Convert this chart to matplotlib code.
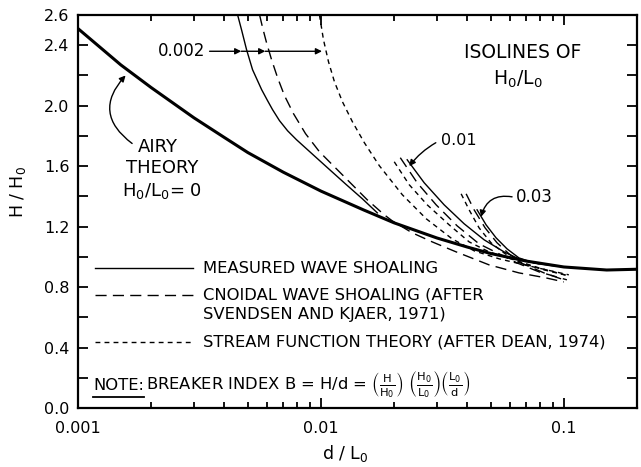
import matplotlib

matplotlib.use("Agg")
import matplotlib.pyplot as plt
from matplotlib.ticker import FixedLocator, FixedFormatter, LogLocator, NullFormatter

plt.rcParams["font.family"] = ["DejaVu Sans"]
plt.rcParams["mathtext.default"] = "regular"

# Airy theory, H0/L0 = 0
AIRY_D = [0.001, 0.0015, 0.002, 0.003, 0.004, 0.005, 0.007, 0.01, 0.015, 0.02,
          0.03, 0.04, 0.05, 0.07, 0.1, 0.15, 0.2]
AIRY_H = [2.51, 2.27, 2.12, 1.92, 1.79, 1.69, 1.56, 1.435, 1.31, 1.225,
          1.125, 1.065, 1.022, 0.972, 0.933, 0.913, 0.918]

# isoline H0/L0 = 0.002
MEAS_002_D = [0.00454, 0.00472, 0.00494, 0.00523, 0.0057, 0.00603, 0.00632, 0.00675, 0.00729,
              0.00793, 0.00872, 0.01053, 0.01273, 0.01481, 0.01706]
MEAS_002_H = [2.60, 2.497, 2.371, 2.238, 2.106, 2.033, 1.974, 1.901, 1.834,
              1.775, 1.715, 1.596, 1.477, 1.384, 1.291]
CNOI_002_D = [0.00559, 0.00575, 0.00597, 0.00626, 0.00663, 0.00708, 0.00771, 0.00864, 0.00986,
              0.01147, 0.01334, 0.01552, 0.01823, 0.01966, 0.02375, 0.02871, 0.036, 0.0492,
              0.0653, 0.0843, 0.1]
CNOI_002_H = [2.60, 2.517, 2.417, 2.305, 2.185, 2.066, 1.947, 1.815, 1.695,
              1.589, 1.483, 1.377, 1.278, 1.238, 1.159, 1.099, 1.033, 0.947,
              0.894, 0.861, 0.834]
STRM_002_D = [0.00986, 0.01024, 0.01074, 0.01136, 0.01226, 0.01347, 0.01509, 0.01739, 0.02162,
              0.02712, 0.03467, 0.04271, 0.0541, 0.0718, 0.1048]
STRM_002_H = [2.60, 2.437, 2.291, 2.159, 2.026, 1.894, 1.755, 1.603, 1.411,
              1.252, 1.119, 1.040, 0.987, 0.940, 0.881]

# isoline H0/L0 = 0.01
MEAS_01_D = [0.02265, 0.02661, 0.03215, 0.03884, 0.04693, 0.0567, 0.0666, 0.0789]
MEAS_01_H = [1.642, 1.490, 1.344, 1.219, 1.113, 1.033, 0.980, 0.954]
CNOI_01_D = [0.02121, 0.0249, 0.0298, 0.03636, 0.04475, 0.0541, 0.06412, 0.0789, 0.1029]
CNOI_01_H = [1.656, 1.490, 1.344, 1.205, 1.086, 1.020, 0.960, 0.901, 0.848]
STRM_01_D = [0.02003, 0.02309, 0.02738, 0.0337, 0.04073, 0.0492, 0.06232, 0.07892, 0.1048]
STRM_01_H = [1.629, 1.477, 1.344, 1.212, 1.099, 1.033, 0.980, 0.927, 0.874]

# isoline H0/L0 = 0.03
MEAS_03_D = [0.04392, 0.04783, 0.05257, 0.05833, 0.0653, 0.07527, 0.09097]
MEAS_03_H = [1.311, 1.212, 1.126, 1.053, 0.993, 0.960, 0.940]
CNOI_03_D = [0.03959, 0.04271, 0.04738, 0.05306, 0.05943, 0.0666, 0.08277, 0.1029]
CNOI_03_H = [1.417, 1.311, 1.192, 1.093, 1.020, 0.960, 0.894, 0.841]
STRM_03_D = [0.03776, 0.04073, 0.04475, 0.05013, 0.0567, 0.06412, 0.08277, 0.1048]
STRM_03_H = [1.417, 1.311, 1.192, 1.093, 1.026, 0.967, 0.914, 0.874]

Y_TICKS = [0.0, 0.2, 0.4, 0.6, 0.8, 1.0, 1.2, 1.4, 1.6, 1.8, 2.0, 2.2, 2.4, 2.6]
Y_LABELS = ["0.0", "", "0.4", "", "0.8", "", "1.2", "", "1.6", "", "2.0", "", "2.4", "2.6"]
X_TICKS = [0.001, 0.01, 0.1]
X_LABELS = ["0.001", "0.01", "0.1"]

LONG_DASH = (8, 4.5)
SHORT_DASH = (3.5, 3)

fig = plt.figure(figsize=(6.41, 4.67), dpi=100)
ax = fig.add_axes([0.1217, 0.1263, 0.8721, 0.8416])

ax.plot(AIRY_D, AIRY_H, color="black", lw=2.2, solid_capstyle="butt")
for d, h in [(MEAS_002_D, MEAS_002_H), (MEAS_01_D, MEAS_01_H), (MEAS_03_D, MEAS_03_H)]:
    ax.plot(d, h, color="black", lw=1.0)
for d, h in [(CNOI_002_D, CNOI_002_H), (CNOI_01_D, CNOI_01_H), (CNOI_03_D, CNOI_03_H)]:
    ax.plot(d, h, color="black", lw=1.0, dashes=LONG_DASH)
for d, h in [(STRM_002_D, STRM_002_H), (STRM_01_D, STRM_01_H), (STRM_03_D, STRM_03_H)]:
    ax.plot(d, h, color="black", lw=1.0, dashes=SHORT_DASH)

ax.set_xscale("log")
ax.set_xlim(0.001, 0.2)
ax.set_ylim(0, 2.6)
ax.xaxis.set_major_locator(FixedLocator(X_TICKS))
ax.xaxis.set_major_formatter(FixedFormatter(X_LABELS))
ax.xaxis.set_minor_locator(LogLocator(base=10, subs=range(2, 10)))
ax.xaxis.set_minor_formatter(NullFormatter())
ax.yaxis.set_major_locator(FixedLocator(Y_TICKS))
ax.yaxis.set_major_formatter(FixedFormatter(Y_LABELS))
ax.tick_params(which="both", direction="in", top=True, right=True, width=1.3, labelsize=11.5)
ax.tick_params(which="major", length=7)
ax.tick_params(which="minor", length=4.5)
ax.tick_params(axis="x", pad=9)
ax.tick_params(axis="y", pad=6)
for sp in ax.spines.values():
    sp.set_linewidth(1.6)

ax.set_xlabel(r"d / L$_0$", fontsize=12.5)
ax.set_ylabel(r"H / H$_0$", fontsize=12.5)
ax.xaxis.set_label_coords(0.479, -0.088)
ax.yaxis.set_label_coords(-0.09, 0.55)


def axx(px):
    return (px - 78) / 559.0


def axy(py):
    return (408 - py) / 393.0


tr = ax.transAxes

# annotations
arrow_kw = dict(arrowstyle="-|>", color="black", lw=1.0, mutation_scale=9, shrinkA=0, shrinkB=0)
ax.text(0.00335, 2.36, "0.002", ha="right", va="center", fontsize=12)
for x0, x1 in [(0.00348, 0.0047), (0.0047, 0.0059), (0.0059, 0.0101)]:
    ax.annotate("", xy=(x1, 2.36), xytext=(x0, 2.36), arrowprops=arrow_kw)

ax.text(0.0313, 1.768, "0.01", ha="left", va="center", fontsize=11.5)
ax.annotate("", xy=(0.0231, 1.60), xytext=(0.0297, 1.755),
            arrowprops=dict(arrow_kw, connectionstyle="arc3,rad=0.1"))
ax.text(0.0635, 1.397, "0.03", ha="left", va="center", fontsize=12)
ax.annotate("", xy=(0.0456, 1.265), xytext=(0.0612, 1.397),
            arrowprops=dict(arrow_kw, connectionstyle="arc3,rad=0.45"))

ax.text(axx(158), axy(147), "AIRY", transform=tr, ha="center", va="center", fontsize=13)
ax.text(axx(162), axy(168), "THEORY", transform=tr, ha="center", va="center", fontsize=13)
ax.text(axx(162), axy(191), "H$_0$/L$_0$= 0", transform=tr, ha="center", va="center", fontsize=13)
ax.annotate("", xy=(0.00157, 2.20), xytext=(0.00167, 1.75),
            arrowprops=dict(arrow_kw, connectionstyle="arc3,rad=-0.55"))

ax.text(axx(523), axy(53), "ISOLINES OF", transform=tr, ha="center", va="center", fontsize=13.5)
ax.text(axx(518), axy(79), "H$_0$/L$_0$", transform=tr, ha="center", va="center", fontsize=13.5)

# legend
ax.plot([axx(95), axx(193)], [axy(268)] * 2, color="black", lw=1.0, transform=tr)
ax.plot([axx(95), axx(193)], [axy(295)] * 2, color="black", lw=1.0, dashes=LONG_DASH, transform=tr)
ax.plot([axx(95), axx(193)], [axy(342)] * 2, color="black", lw=1.0, dashes=SHORT_DASH, transform=tr)
leg_fs = 11.8
ax.text(axx(203), axy(268), "MEASURED WAVE SHOALING", transform=tr, va="center", fontsize=leg_fs)
ax.text(axx(203), axy(295), "CNOIDAL WAVE SHOALING (AFTER", transform=tr, va="center", fontsize=leg_fs)
ax.text(axx(203), axy(314), "SVENDSEN AND KJAER, 1971)", transform=tr, va="center", fontsize=leg_fs)
ax.text(axx(203), axy(342), "STREAM FUNCTION THEORY (AFTER DEAN, 1974)", transform=tr,
        va="center", fontsize=leg_fs)

note = ax.text(axx(93), axy(390), "NOTE:", transform=tr, va="baseline", fontsize=leg_fs)
fig.canvas.draw()
bb = note.get_window_extent().transformed(tr.inverted())
ax.plot([bb.x0, bb.x1], [axy(397)] * 2, color="black", lw=1.3, transform=tr)
ax.text(bb.x1 + 0.004, axy(390),
        r"BREAKER INDEX B = H/d = $\left(\frac{H}{H_0}\right)\ \left(\frac{H_0}{L_0}\right)"
        r"\left(\frac{L_0}{d}\right)$",
        transform=tr, va="baseline", fontsize=leg_fs)

fig.savefig("out.png", dpi=100)
